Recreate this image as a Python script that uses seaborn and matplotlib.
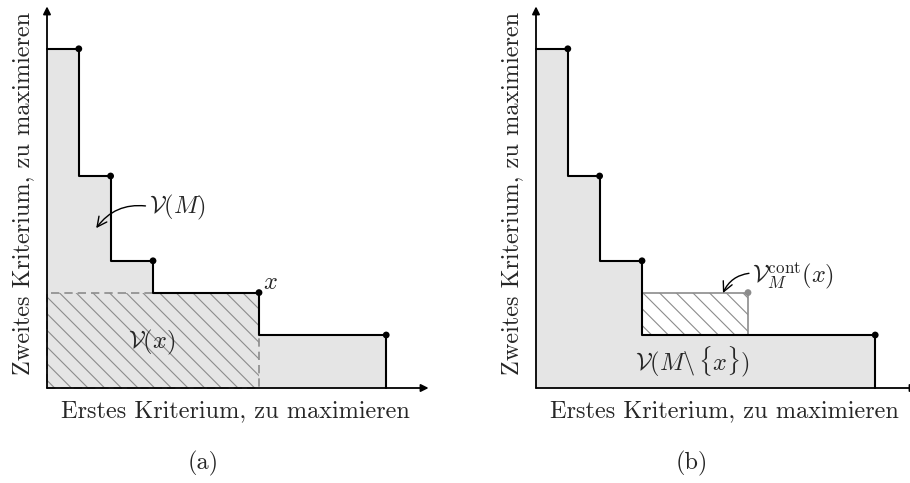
import matplotlib
matplotlib.use("Agg")
import matplotlib.pyplot as plt
import matplotlib.patches as mpatches
import pandas as pd
import seaborn as sns

# Pareto front, both criteria maximised
front_x = [0.75, 1.5, 2.5, 5.0, 8.0]
front_y = [8.0, 5.0, 3.0, 2.25, 1.25]
removed_idx = 3          # the point x

axis_max = 9.0
xlabel = "Erstes Kriterium, zu maximieren"
ylabel = "Zweites Kriterium, zu maximieren"
captions = ["(a)", "(b)"]
label_vm = r"$\mathcal{V}(M)$"
label_vx = r"$\mathcal{V}(x)$"
label_x = r"$x$"
label_rest = r"$\mathcal{V}(M\backslash\,\{x\})$"
label_cont = r"$\mathcal{V}_M^{\mathrm{cont}}(x)$"

sns.set_theme(style="white")
plt.rcParams["font.family"] = ["cmr10", "DejaVu Serif"]
plt.rcParams["mathtext.fontset"] = "cm"
plt.rcParams["axes.formatter.use_mathtext"] = True
plt.rcParams["hatch.linewidth"] = 0.8

FILL = "#e5e5e5"
GREY = "#8c8c8c"
FS = 17.5

PX_PER_UNIT = 42.4
FIG_W, FIG_H = 910, 483
XLIM = (-0.2, 9.2)
YLIM = (-0.2, 9.1)
HATCH = "\\\\"


def make_axes(fig, origin_px):
    ox, oy = origin_px
    left = ox + XLIM[0] * PX_PER_UNIT
    bottom = (FIG_H - oy) + YLIM[0] * PX_PER_UNIT
    w = (XLIM[1] - XLIM[0]) * PX_PER_UNIT
    h = (YLIM[1] - YLIM[0]) * PX_PER_UNIT
    ax = fig.add_axes([left / FIG_W, bottom / FIG_H, w / FIG_W, h / FIG_H])
    ax.set_xlim(*XLIM)
    ax.set_ylim(*YLIM)
    ax.axis("off")
    return ax


def staircase(ax, xs, ys):
    sx = [0.0] + list(xs) + [xs[-1]]
    sy = [ys[0]] + list(ys) + [0.0]
    ax.fill_between(sx[:-1], sy[:-1], step="pre", color=FILL, lw=0, zorder=1)
    df = pd.DataFrame({"x": sx, "y": sy})
    sns.lineplot(data=df, x="x", y="y", drawstyle="steps-pre", estimator=None,
                 sort=False, color="black", lw=1.5, ax=ax, zorder=4,
                 legend=False)


def frame(ax, caption):
    arrow = dict(arrowstyle="-|>", color="black", lw=1.3, mutation_scale=11,
                 shrinkA=0, shrinkB=0)
    ax.annotate("", xy=(axis_max, 0), xytext=(0, 0), arrowprops=arrow,
                annotation_clip=False, zorder=6)
    ax.annotate("", xy=(0, axis_max), xytext=(0, 0), arrowprops=arrow,
                annotation_clip=False, zorder=6)
    ax.text(4.45, -0.55, xlabel, ha="center", va="center", fontsize=FS)
    ax.text(-0.57, 4.6, ylabel, ha="center", va="center", rotation=90,
            fontsize=FS)
    ax.text(3.68, -1.77, caption, ha="center", va="center", fontsize=FS)


fig = plt.figure(figsize=(FIG_W / 100, FIG_H / 100), dpi=100)

# (a) dominated region of the whole set and of the single point x
ax = make_axes(fig, (47, 388))
staircase(ax, front_x, front_y)
ax.add_patch(mpatches.Rectangle((0, 0), front_x[removed_idx],
                                front_y[removed_idx], facecolor="none",
                                edgecolor=GREY, hatch=HATCH, lw=1.2,
                                linestyle=(0, (5, 3)), zorder=2))
sns.scatterplot(x=front_x, y=front_y, color="black", s=24, edgecolor="none",
                ax=ax, zorder=5, clip_on=False)
frame(ax, captions[0])
ax.text(front_x[removed_idx] + 0.26, front_y[removed_idx] + 0.23, label_x,
        ha="center", va="center", fontsize=FS)
ax.text(2.47, 1.08, label_vx, ha="center", va="center", fontsize=FS)
ax.annotate(label_vm, xy=(1.16, 3.77), xytext=(2.4, 4.25),
            ha="left", va="center", fontsize=FS,
            arrowprops=dict(arrowstyle="->", color="black", lw=1.0,
                            shrinkA=0, shrinkB=0, relpos=(0, 0.55),
                            connectionstyle="arc3,rad=0.3"))

# (b) set without x, and the exclusive contribution of x
ax = make_axes(fig, (536, 388))
rest_x = [v for i, v in enumerate(front_x) if i != removed_idx]
rest_y = [v for i, v in enumerate(front_y) if i != removed_idx]
staircase(ax, rest_x, rest_y)
x0 = front_x[removed_idx - 1]
y0 = front_y[removed_idx + 1]
ax.add_patch(mpatches.Rectangle((x0, y0), front_x[removed_idx] - x0,
                                front_y[removed_idx] - y0, facecolor="white",
                                edgecolor=GREY, hatch=HATCH, lw=1.2, zorder=2))
sns.scatterplot(x=rest_x, y=rest_y, color="black", s=24, edgecolor="none",
                ax=ax, zorder=5, clip_on=False)
sns.scatterplot(x=[front_x[removed_idx]], y=[front_y[removed_idx]],
                color=GREY, s=24, edgecolor="none", ax=ax, zorder=5)
frame(ax, captions[1])
ax.text(3.7, 0.61, label_rest, ha="center", va="center", fontsize=FS)
ax.annotate(label_cont, xy=(4.41, 2.24), xytext=(5.1, 2.64),
            ha="left", va="center", fontsize=FS,
            arrowprops=dict(arrowstyle="->", color="black", lw=1.0,
                            shrinkA=0, shrinkB=0, relpos=(0, 0.6),
                            connectionstyle="arc3,rad=0.3"))

fig.savefig("out.png", dpi=100)
